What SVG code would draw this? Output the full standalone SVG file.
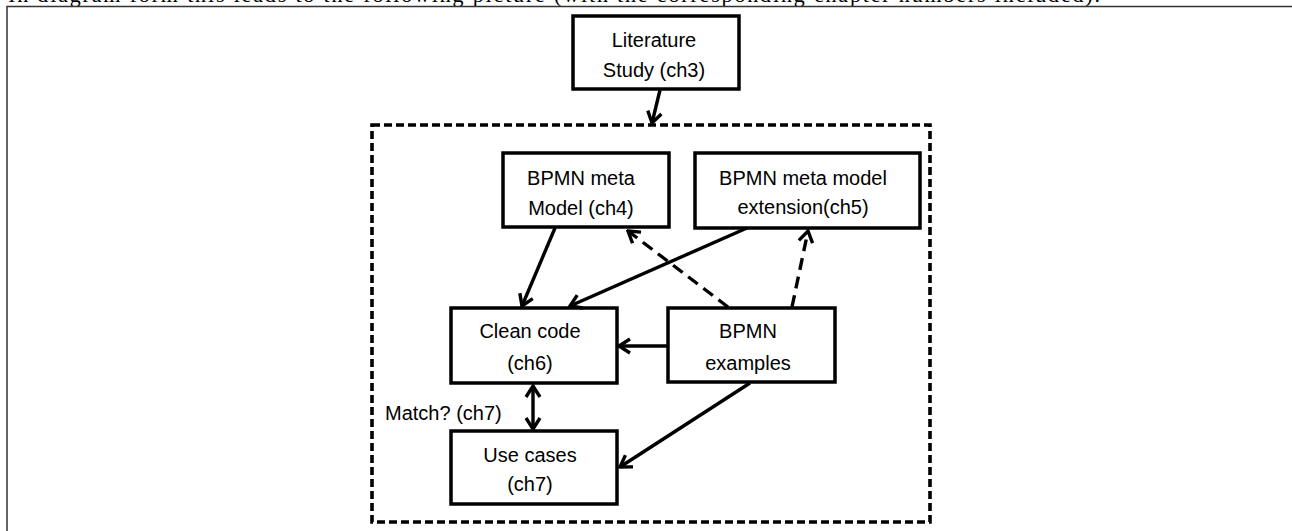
<svg xmlns="http://www.w3.org/2000/svg" width="1292" height="531" viewBox="0 0 1292 531">
  <style>
    .box { fill: #ffffff; stroke: #000000; stroke-width: 3.5; }
    .lbl { font-family: "Liberation Sans", Arial, sans-serif; font-size: 20px; fill: #000000; text-anchor: middle; }
    .conn { fill: none; stroke: #000000; stroke-width: 3.4; }
    .dash { stroke-dasharray: 12 7; }
    .page { fill: none; stroke: #333333; stroke-width: 1.5; }
  </style>
  <defs>
    <marker id="head" viewBox="-13 -9 15 18" markerWidth="15" markerHeight="18" refX="0" refY="0" orient="auto" markerUnits="userSpaceOnUse">
      <path d="M -11 -7 L 0 0 L -11 7" fill="none" stroke="#000000" stroke-width="3.4" stroke-dasharray="none" stroke-linejoin="miter"/>
    </marker>
    <marker id="tail" viewBox="-13 -9 15 18" markerWidth="15" markerHeight="18" refX="0" refY="0" orient="auto-start-reverse" markerUnits="userSpaceOnUse">
      <path d="M -11 -7 L 0 0 L -11 7" fill="none" stroke="#000000" stroke-width="3.4" stroke-dasharray="none" stroke-linejoin="miter"/>
    </marker>
  </defs>

  <rect x="0" y="0" width="1292" height="531" fill="#ffffff"/>

  <!-- surrounding page text and frame -->
  <text x="8" y="2" font-family="'Liberation Serif', 'Times New Roman', serif" font-size="22" textLength="1092" lengthAdjust="spacing" fill="#000000">In diagram form this leads to the following picture (with the corresponding chapter numbers included).</text>
  <path class="page" d="M 7 531 L 7 6.5 L 1292 6.5"/>

  <!-- dashed scope boundary -->
  <rect id="scope" x="372" y="125" width="558" height="397" fill="none" stroke="#000000" stroke-width="3.6" stroke-dasharray="8 4"/>

  <g id="literature">
    <rect class="box" x="573" y="16" width="166" height="73"/>
    <text class="lbl" x="654" y="47">Literature</text>
    <text class="lbl" x="654" y="77">Study (ch3)</text>
  </g>

  <g id="meta-model">
    <rect class="box" x="503" y="153" width="166" height="74"/>
    <text class="lbl" x="581" y="185">BPMN meta</text>
    <text class="lbl" x="581" y="215">Model (ch4)</text>
  </g>

  <g id="meta-extension">
    <rect class="box" x="695" y="153" width="225" height="75"/>
    <text class="lbl" x="803" y="185">BPMN meta model</text>
    <text class="lbl" x="803" y="214">extension(ch5)</text>
  </g>

  <g id="clean-code">
    <rect class="box" x="451" y="308" width="166" height="75"/>
    <text class="lbl" x="530" y="338">Clean code</text>
    <text class="lbl" x="530" y="370">(ch6)</text>
  </g>

  <g id="examples">
    <rect class="box" x="668" y="308" width="167" height="74"/>
    <text class="lbl" x="748" y="338">BPMN</text>
    <text class="lbl" x="748" y="370">examples</text>
  </g>

  <g id="use-cases">
    <rect class="box" x="451" y="431" width="166" height="73"/>
    <text class="lbl" x="530" y="462">Use cases</text>
    <text class="lbl" x="530" y="491">(ch7)</text>
  </g>

  <g id="connectors">
    <line class="conn" x1="660" y1="90" x2="652" y2="123" marker-end="url(#head)"/>
    <line class="conn" x1="555" y1="228" x2="522" y2="306" marker-end="url(#head)"/>
    <line class="conn" x1="747" y1="228" x2="570" y2="306" marker-end="url(#head)"/>
    <line class="conn dash" x1="728" y1="307" x2="628" y2="231" marker-end="url(#head)"/>
    <line class="conn dash" x1="792" y1="307" x2="808" y2="231" marker-end="url(#head)"/>
    <line class="conn" x1="667" y1="346" x2="619" y2="346" marker-end="url(#head)"/>
    <line class="conn" x1="533" y1="386" x2="533" y2="429" marker-start="url(#tail)" marker-end="url(#head)"/>
    <line class="conn" x1="750" y1="383" x2="620" y2="467" marker-end="url(#head)"/>
    <text x="385" y="420" font-family="'Liberation Sans', Arial, sans-serif" font-size="20" fill="#000000">Match? (ch7)</text>
  </g>
</svg>
